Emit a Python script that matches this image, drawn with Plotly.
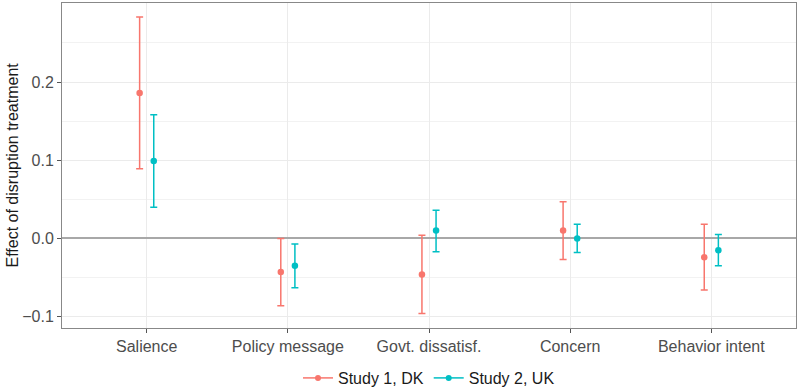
import plotly.graph_objects as go

categories = ["Salience", "Policy message", "Govt. dissatisf.", "Concern", "Behavior intent"]
study1_est = [0.186, -0.043, -0.046, 0.010, -0.024]
study1_lo = [0.089, -0.086, -0.096, -0.027, -0.066]
study1_hi = [0.283, 0.000, 0.004, 0.047, 0.018]
study2_est = [0.099, -0.035, 0.010, 0.000, -0.015]
study2_lo = [0.040, -0.063, -0.017, -0.018, -0.035]
study2_hi = [0.158, -0.007, 0.036, 0.018, 0.005]
series_names = ["Study 1, DK", "Study 2, UK"]
colors = ["#F8766D", "#00BFC4"]
y_ticks = [-0.1, 0.0, 0.1, 0.2]
y_tick_labels = ["\u22120.1", "0.0", "0.1", "0.2"]

dodge = 0.05
fig = go.Figure()
series = [(study1_est, study1_lo, study1_hi), (study2_est, study2_lo, study2_hi)]
for k, (est, lo, hi) in enumerate(series):
    off = -dodge if k == 0 else dodge
    xs = [i + 1 + off for i in range(len(categories))]
    fig.add_trace(go.Scatter(
        x=xs, y=est, mode="markers",
        marker=dict(color=colors[k], size=6.5),
        error_y=dict(type="data", symmetric=False,
                     array=[h - e for h, e in zip(hi, est)],
                     arrayminus=[e - l for e, l in zip(est, lo)],
                     color=colors[k], thickness=1.5, width=3.5),
        showlegend=False, name=series_names[k]))
for k in range(2):
    fig.add_trace(go.Scatter(
        x=[None], y=[None], mode="lines+markers", name=series_names[k],
        line=dict(color=colors[k], width=1.5), marker=dict(color=colors[k], size=6)))

fig.update_layout(
    width=800, height=388,
    margin=dict(l=62, r=4, t=3, b=60, autoexpand=False),
    paper_bgcolor="white", plot_bgcolor="white",
    font=dict(family="Liberation Sans, Arial, sans-serif", size=16, color="#4D4D4D"),
    showlegend=True,
    legend=dict(orientation="h", x=0.5, xanchor="center", yref="container",
                y=1 - 378 / 388, yanchor="middle",
                font=dict(size=16, color="#1A1A1A"), itemwidth=30, tracegroupgap=0),
    xaxis=dict(range=[0.4, 5.6], tickmode="array", tickvals=[1, 2, 3, 4, 5],
               ticktext=categories, showgrid=True, gridcolor="#EBEBEB", gridwidth=1,
               zeroline=False, ticks="outside", ticklen=4, tickcolor="#555555",
               showline=True, linecolor="#888888", linewidth=1, mirror=True,
               automargin=False, tickfont=dict(size=16, color="#4D4D4D")),
    yaxis=dict(range=[-0.1145, 0.301], tickmode="array", tickvals=y_ticks,
               ticktext=y_tick_labels, showgrid=True, gridcolor="#EBEBEB", gridwidth=1,
               minor=dict(dtick=0.05, tick0=0, showgrid=True, gridcolor="#F2F2F2", gridwidth=0.6),
               zeroline=True, zerolinecolor="#A8A8A8", zerolinewidth=1.5,
               ticks="outside", ticklen=4, tickcolor="#555555",
               showline=True, linecolor="#888888", linewidth=1, mirror=True,
               automargin=False, tickfont=dict(size=16, color="#4D4D4D")),
    annotations=[dict(text="Effect of disruption treatment", xref="paper", yref="paper",
                      x=-50 / 734, y=0.5, xanchor="center", yanchor="middle",
                      textangle=-90, showarrow=False,
                      font=dict(size=16, color="#1A1A1A"))],
)
fig.write_html("out.html", config={"displayModeBar": False},
               post_script="document.body.style.margin='0';")
